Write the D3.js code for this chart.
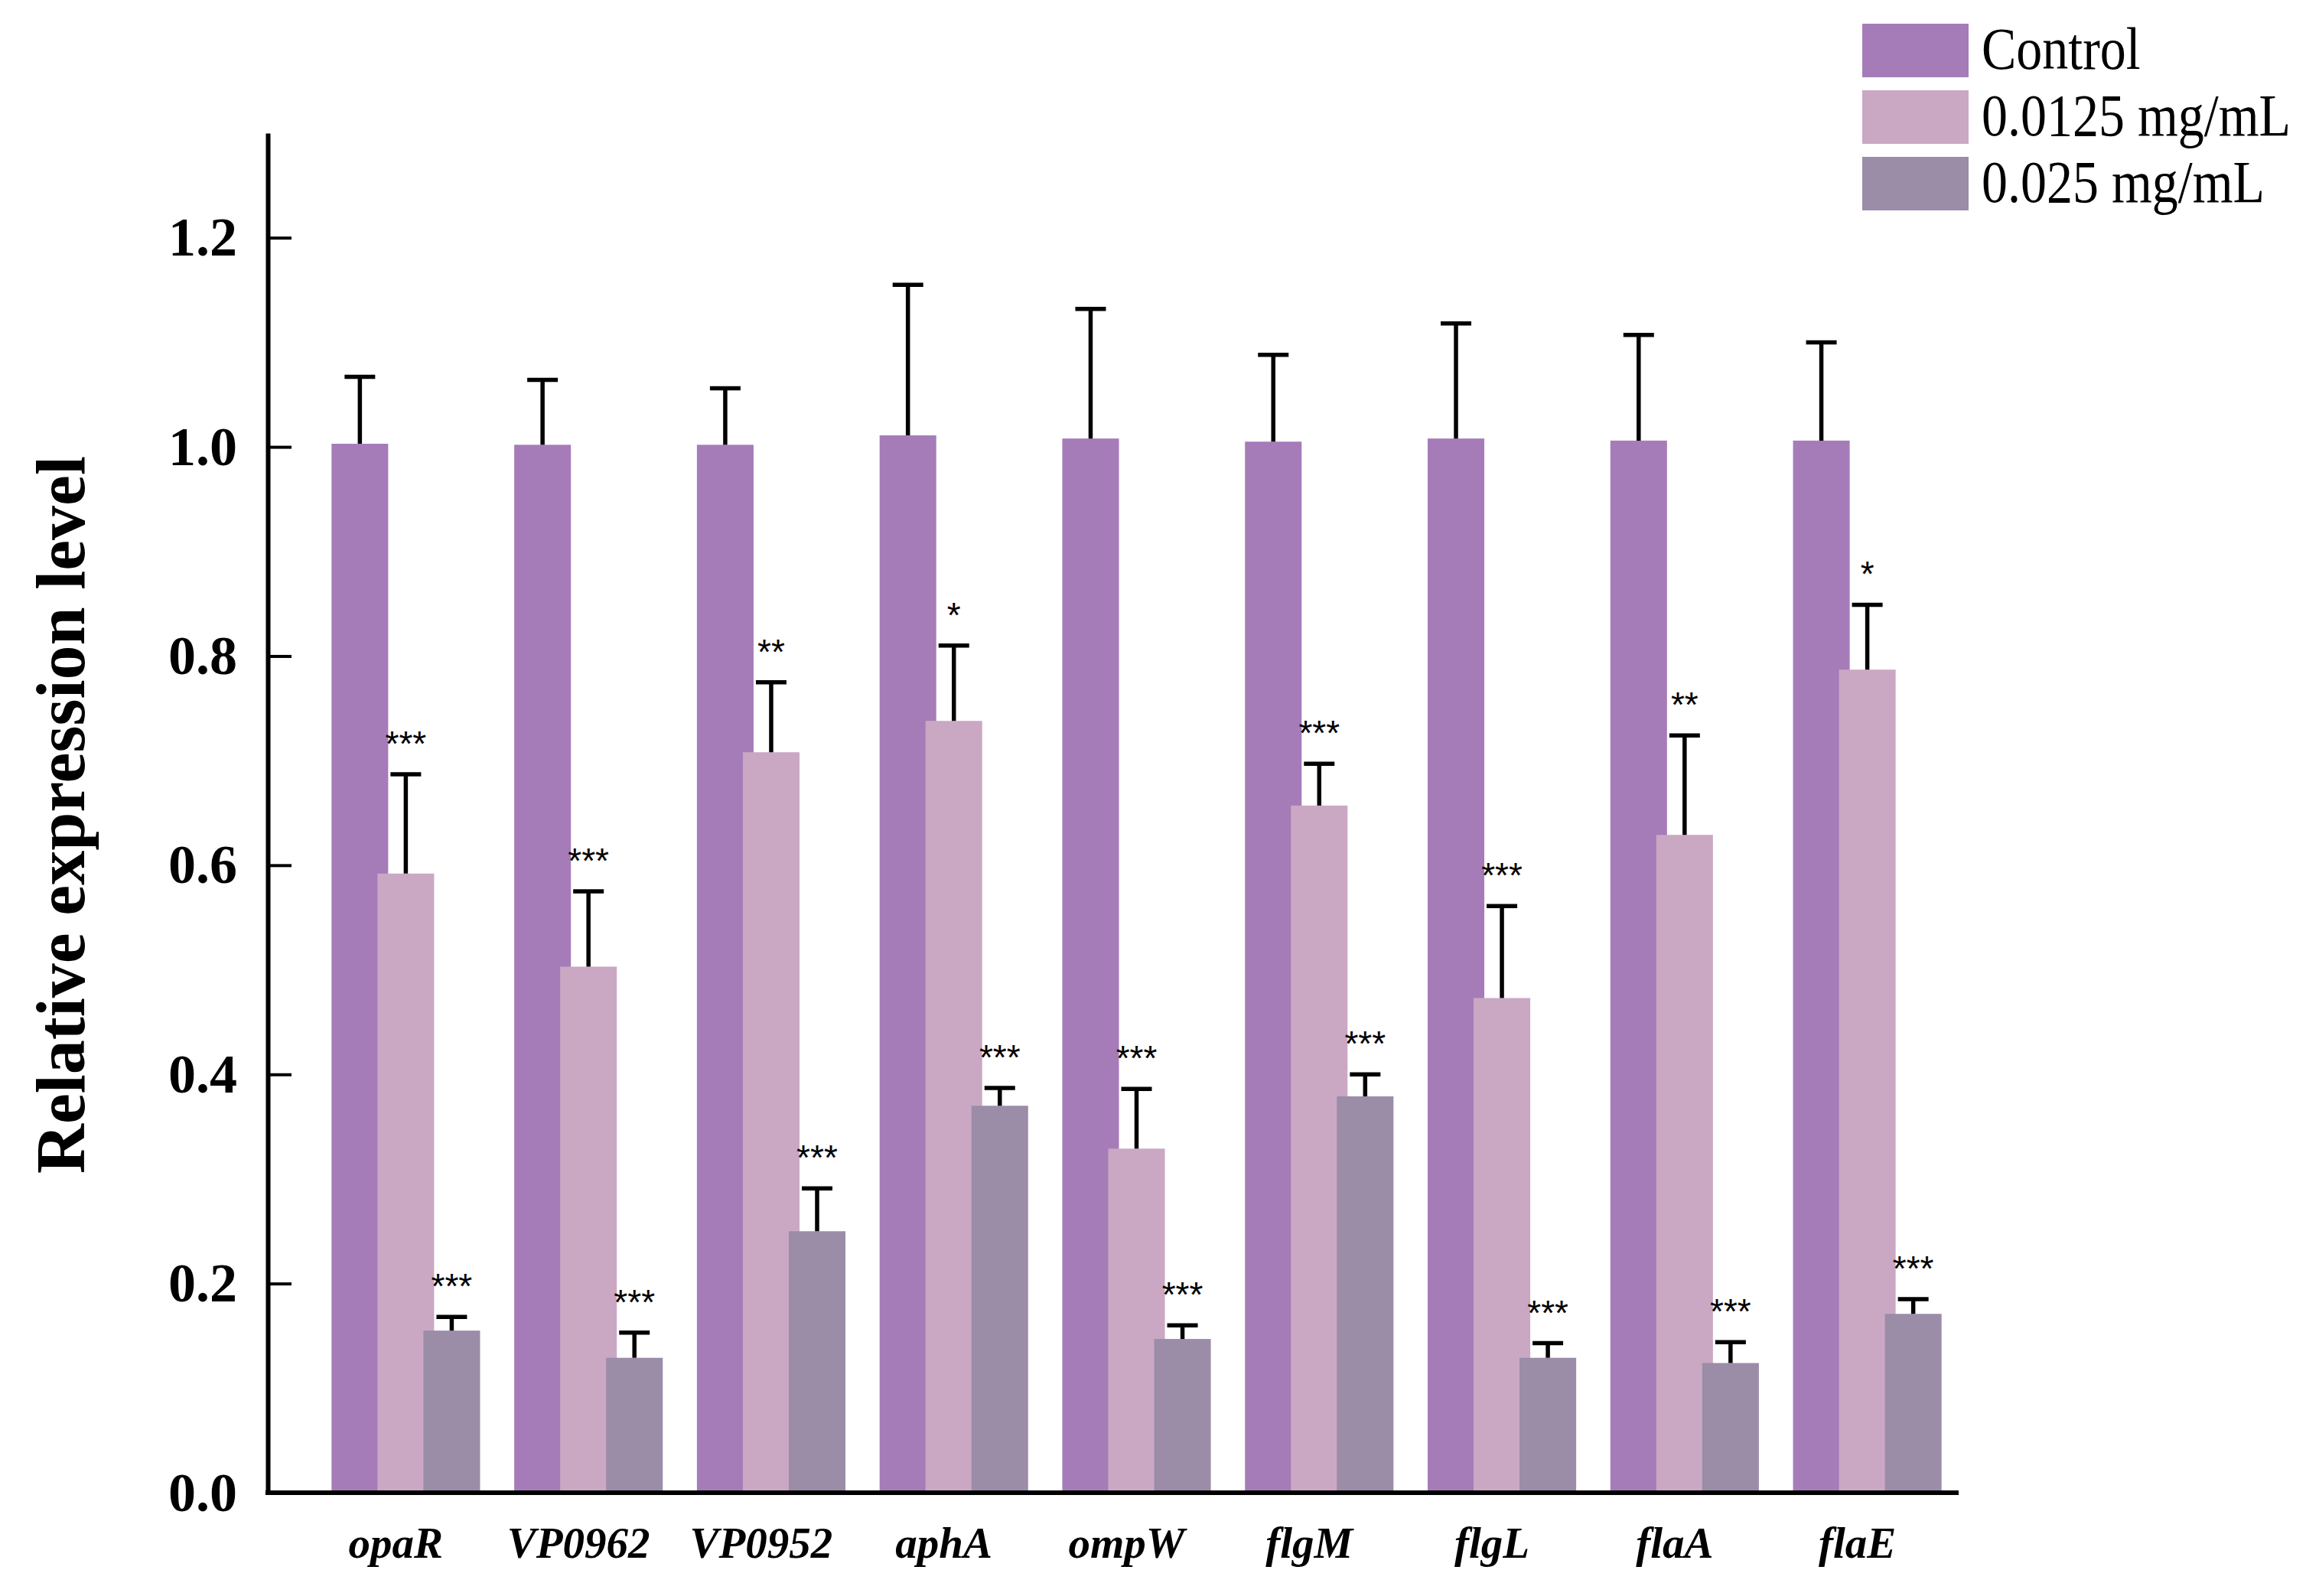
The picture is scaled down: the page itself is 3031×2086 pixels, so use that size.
<!DOCTYPE html>
<html>
<head>
<meta charset="utf-8">
<script src="https://cdn.jsdelivr.net/npm/d3@7"></script>
<style>
  html, body { margin: 0; padding: 0; background: #ffffff; }
  svg { display: block; }
</style>
</head>
<body>
<svg id="chart" width="3031" height="2086"></svg>
<script>
// ---------- data ----------
const genes = ["opaR", "VP0962", "VP0952", "aphA", "ompW", "flgM", "flgL", "flaA", "flaE"];
const seriesNames = ["Control", "0.0125 mg/mL", "0.025 mg/mL"];

const controlMean = [1.003, 1.002, 1.002, 1.011, 1.008, 1.005, 1.008, 1.006, 1.006];
const controlSD   = [0.064, 0.062, 0.054, 0.144, 0.124, 0.083, 0.110, 0.101, 0.094];

const lowMean = [0.592, 0.503, 0.708, 0.738, 0.329, 0.657, 0.473, 0.629, 0.787];
const lowSD   = [0.095, 0.072, 0.067, 0.072, 0.057, 0.040, 0.088, 0.095, 0.062];
const lowSig  = ["***", "***", "**", "*", "***", "***", "***", "**", "*"];

const highMean = [0.155, 0.129, 0.250, 0.370, 0.147, 0.379, 0.129, 0.124, 0.171];
const highSD   = [0.013, 0.024, 0.041, 0.017, 0.013, 0.021, 0.014, 0.020, 0.014];
const highSig  = ["***", "***", "***", "***", "***", "***", "***", "***", "***"];

const yTicks = [0.0, 0.2, 0.4, 0.6, 0.8, 1.0, 1.2];
const yLabel = "Relative expression level";
const colors = ["#A57CB8", "#CAA8C4", "#9B8CA8"];

// ---------- layout ----------
const svg = d3.select("#chart");
const plotLeft = 350, plotRight = 2560, plotTop = 174, plotBottom = 1951;
const serif = "'Liberation Serif', 'Times New Roman', serif";

const x = d3.scaleBand().domain(genes)
  .range([plotLeft + 61, plotRight])
  .paddingInner(0.187).paddingOuter(0.0935);
const bw = x.bandwidth();
const barW = bw * 74 / 194;
const sub = d3.scalePoint().domain(seriesNames).range([0, bw - barW]);
const y = d3.scaleLinear().domain([0, 1.3]).range([plotBottom, plotTop]);
const color = d3.scaleOrdinal().domain(seriesNames).range(colors);

const series = [
  { name: seriesNames[0], mean: controlMean, sd: controlSD, sig: null },
  { name: seriesNames[1], mean: lowMean, sd: lowSD, sig: lowSig },
  { name: seriesNames[2], mean: highMean, sd: highSD, sig: highSig }
];

const rows = [];
series.forEach(s => genes.forEach((g, i) => rows.push({
  gene: g, series: s.name, v: s.mean[i], sd: s.sd[i], sig: s.sig ? s.sig[i] : null
})));

const g = svg.append("g");

// bars (drawn in series order so later series overlap earlier ones)
g.selectAll("rect.bar").data(rows).join("rect")
  .attr("class", "bar")
  .attr("x", d => x(d.gene) + sub(d.series))
  .attr("width", barW)
  .attr("y", d => y(d.v))
  .attr("height", d => y(0) - y(d.v))
  .attr("fill", d => color(d.series));

// error bars (upper only)
const capW = 40;
const eb = g.selectAll("g.err").data(rows).join("g").attr("class", "err")
  .attr("stroke", "#000").attr("stroke-width", 5.5);
eb.append("line")
  .attr("x1", d => x(d.gene) + sub(d.series) + barW / 2)
  .attr("x2", d => x(d.gene) + sub(d.series) + barW / 2)
  .attr("y1", d => y(d.v))
  .attr("y2", d => y(d.v + d.sd));
eb.append("line")
  .attr("x1", d => x(d.gene) + sub(d.series) + barW / 2 - capW / 2)
  .attr("x2", d => x(d.gene) + sub(d.series) + barW / 2 + capW / 2)
  .attr("y1", d => y(d.v + d.sd))
  .attr("y2", d => y(d.v + d.sd));

// significance marks
g.selectAll("text.sig").data(rows.filter(d => d.sig)).join("text")
  .attr("class", "sig")
  .attr("x", d => x(d.gene) + sub(d.series) + barW / 2)
  .attr("y", d => y(d.v + d.sd) - 24)
  .attr("text-anchor", "middle")
  .attr("font-family", "'Liberation Sans', Arial, sans-serif")
  .attr("font-size", 46)
  .attr("fill", "#000")
  .text(d => d.sig);

// y axis
const yAxis = d3.axisLeft(y).tickValues(yTicks).tickFormat(d3.format(".1f"))
  .tickSize(-31).tickSizeOuter(0).tickPadding(40);
const ya = svg.append("g").attr("transform", `translate(${plotLeft},0)`).call(yAxis);
ya.select(".domain").attr("stroke", "#000").attr("stroke-width", 6);
ya.selectAll(".tick line").attr("stroke", "#000").attr("stroke-width", 4);
ya.selectAll(".tick text")
  .attr("font-family", serif).attr("font-weight", "bold")
  .attr("font-size", 72).attr("fill", "#000");

// x axis
svg.append("line")
  .attr("x1", plotLeft - 3).attr("x2", plotRight)
  .attr("y1", plotBottom).attr("y2", plotBottom)
  .attr("stroke", "#000").attr("stroke-width", 6);
const xAxis = d3.axisBottom(x).tickSize(0).tickSizeOuter(0).tickPadding(45);
const xa = svg.append("g").attr("transform", `translate(0,${plotBottom})`).call(xAxis);
xa.select(".domain").remove();
xa.selectAll(".tick text")
  .attr("dx", -13)
  .attr("font-family", serif).attr("font-weight", "bold").attr("font-style", "italic")
  .attr("font-size", 57).attr("fill", "#000");

// y label
svg.append("text")
  .attr("transform", "translate(110,1065) rotate(-90)")
  .attr("text-anchor", "middle")
  .attr("font-family", serif).attr("font-weight", "bold")
  .attr("font-size", 90).attr("fill", "#000")
  .text(yLabel);

// legend
const legend = svg.append("g").attr("transform", "translate(2434,31)");
const li = legend.selectAll("g").data(seriesNames).join("g")
  .attr("transform", (d, i) => `translate(0,${i * 87})`);
li.append("rect").attr("width", 139).attr("height", 70).attr("fill", d => color(d));
li.append("text")
  .attr("transform", "translate(156,59) scale(1,1.15)")
  .attr("font-family", serif).attr("font-size", 68).attr("fill", "#000")
  .text(d => d);
</script>
</body>
</html>
